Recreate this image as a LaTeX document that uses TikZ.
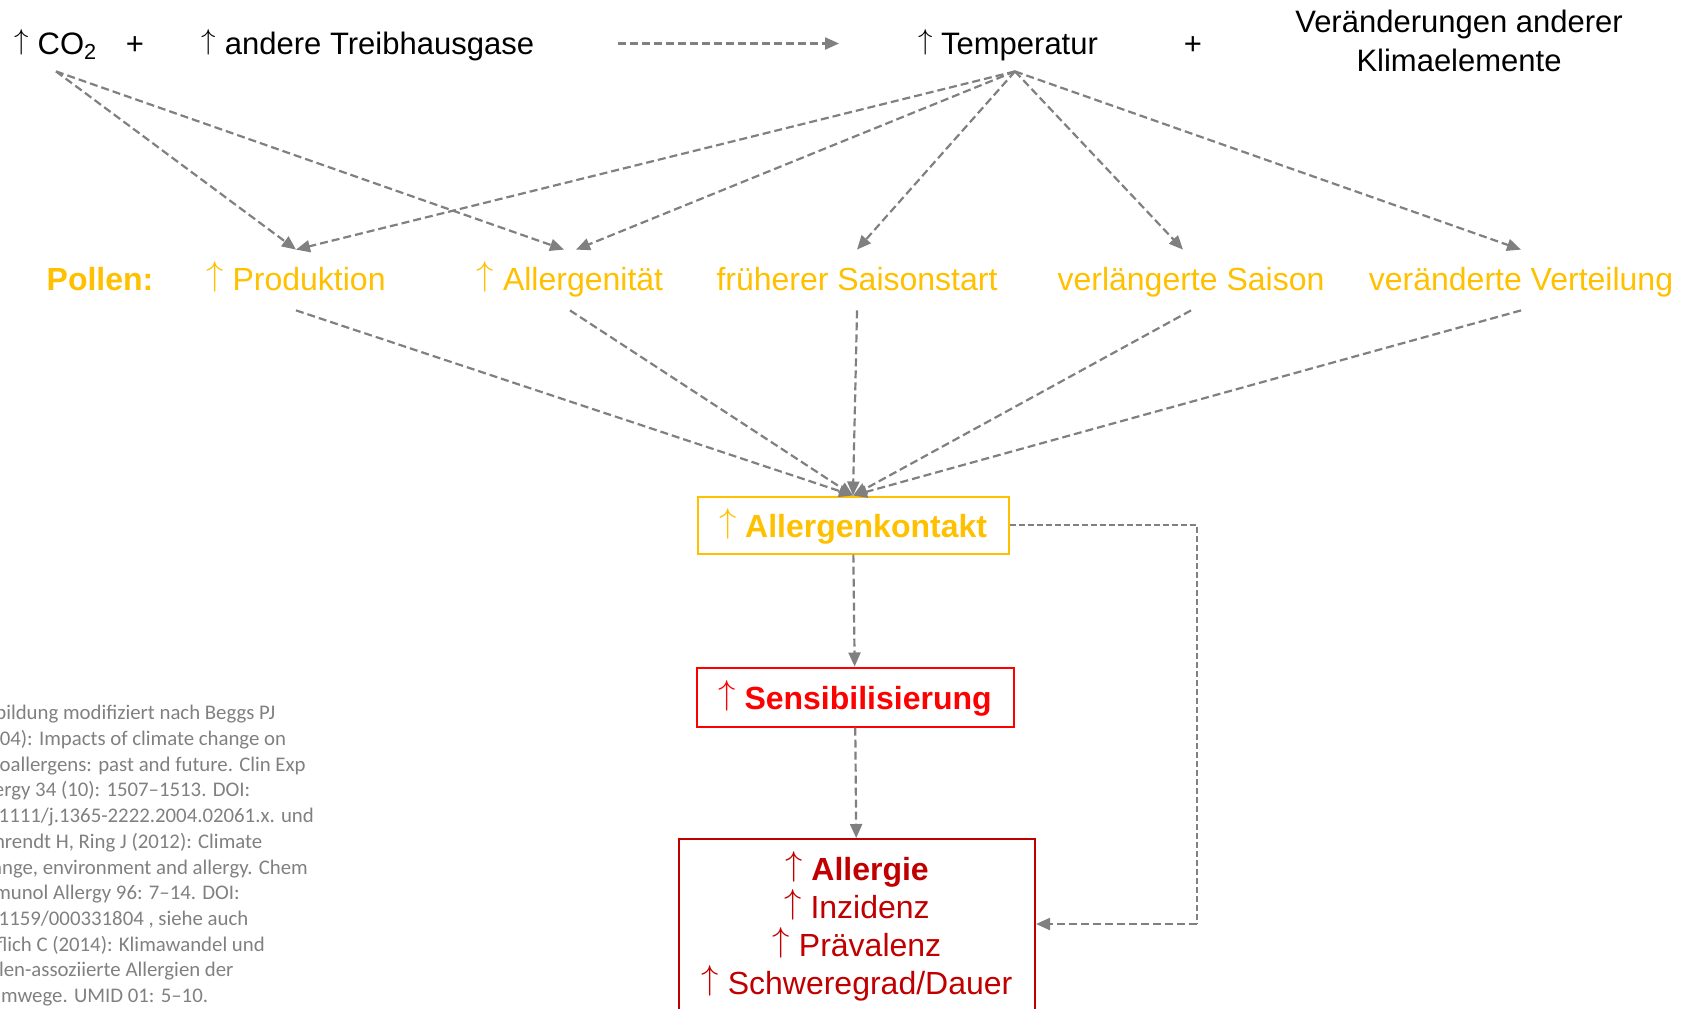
\documentclass[tikz,border=0pt]{standalone}
\usepackage{fontspec}
\setmainfont{Liberation Sans}
\newfontfamily\zitatfont{Carlito}
\usetikzlibrary{arrows.meta}
\definecolor{pollengelb}{HTML}{FFC000}
\definecolor{sensrot}{HTML}{FF0000}
\definecolor{allergierot}{HTML}{C00000}
\definecolor{pfeilgrau}{HTML}{808080}
\definecolor{zitatgrau}{HTML}{808080}
\newcommand{\hoch}{\raisebox{.15em}{$\uparrow$}}
\begin{document}
\begin{tikzpicture}[x=0.5pt,y=-0.5pt,>={Triangle[length=7pt,width=6pt]},
    oben/.style={anchor=base,font=\fontsize{15.5}{19.5}\selectfont,inner ysep=3pt,text height=16pt,text depth=5.5pt},
    pollen/.style={anchor=base,text=pollengelb,font=\fontsize{16}{19}\selectfont,inner ysep=4pt,text height=16pt,text depth=6pt},
    kasten/.style={draw,line width=1pt,font=\bfseries\fontsize{16}{19}\selectfont},
    einzeilig/.style={text height=12pt,text depth=0pt},
    pfeil/.style={->,pfeilgrau,line width=1.1pt,dash pattern=on 4pt off 2pt}]
  \useasboundingbox (0,0) rectangle (1690,1008);
  \clip (0,0) rectangle (1690,1008);
  \path (56,54) node[oben](co2){\hoch{} CO\textsubscript{2}}
        (135,54) node[oben](plus1){+}
        (368,54) node[oben](andere){\hoch{} andere Treibhausgase}
        (1008,54) node[oben](temp){\hoch{} Temperatur}
        (1193,54) node[oben](plus2){+}
        (1459,41) node[align=center,inner sep=0pt,font=\fontsize{15.5}{19.5}\selectfont](klima){Veränderungen anderer\\Klimaelemente};
  \path (100,290) node[pollen,font=\bfseries\fontsize{16}{19}\selectfont](pollen){Pollen:}
        (296,290) node[pollen](prod){\hoch{} Produktion}
        (570,290) node[pollen](allerg){\hoch{} Allergenität}
        (857,290) node[pollen](frueh){früherer Saisonstart}
        (1191,290) node[pollen](verl){verlängerte Saison}
        (1521,290) node[pollen](vert){veränderte Verteilung};
  \path (853,525) node[kasten,einzeilig,draw=pollengelb,text=pollengelb,minimum width=155.5pt,minimum height=28.5pt](kontakt){\hoch{} Allergenkontakt}
        (855,697) node[kasten,einzeilig,draw=sensrot,text=sensrot,minimum width=158.5pt,minimum height=29.5pt](sens){\hoch{} Sensibilisierung}
        (857,838) node[kasten,draw=allergierot,text=allergierot,anchor=north,align=center,minimum width=178pt,minimum height=87.5pt,font=\fontsize{16}{19}\selectfont](allergie){{\bfseries \hoch{} Allergie}\\\hoch{} Inzidenz\\\hoch{} Prävalenz\\\hoch{} Schweregrad/Dauer};
  \path (-28,705) node[anchor=north west,inner sep=0pt,align=left,text=zitatgrau,font=\zitatfont\fontsize{10.4}{12.85}\selectfont](zitat){Abbildung modifiziert nach Beggs PJ\\(2004): Impacts of climate change on\\aeroallergens: past and future. Clin Exp\\Allergy 34 (10): 1507–1513. DOI:\\10.1111/j.1365-2222.2004.02061.x. und\\Behrendt H, Ring J (2012): Climate\\change, environment and allergy. Chem\\Immunol Allergy 96: 7–14. DOI:\\10.1159/000331804 , siehe auch\\Höflich C (2014): Klimawandel und\\pollen-assoziierte Allergien der\\Atemwege. UMID 01: 5–10.};
  % Ursachen
  \draw[pfeil,shorten <=38.5pt,shorten >=36pt] (andere.east) -- (temp.west);
  \draw[pfeil] (co2.south) -- (prod.north);
  \draw[pfeil] (co2.south) -- ([xshift=-3pt]allerg.north);
  \draw[pfeil] ([xshift=3.5pt]temp.south) -- (prod.north);
  \draw[pfeil] ([xshift=3.5pt]temp.south) -- ([xshift=3pt]allerg.north);
  \draw[pfeil] ([xshift=3.5pt]temp.south) -- (frueh.north);
  \draw[pfeil] ([xshift=3.5pt]temp.south) -- ([xshift=-4pt]verl.north);
  \draw[pfeil] ([xshift=3.5pt]temp.south) -- (vert.north);
  % Pollen -> Allergenkontakt
  \draw[pfeil] (prod.south) -- (kontakt.north);
  \draw[pfeil] (allerg.south) -- (kontakt.north);
  \draw[pfeil] (frueh.south) -- (kontakt.north);
  \draw[pfeil] (verl.south) -- (kontakt.north);
  \draw[pfeil] (vert.south) -- (kontakt.north);
  % Folgen
  \draw[pfeil] (kontakt) -- (sens);
  \draw[pfeil] (sens) -- (allergie);
  \coordinate (knick) at (1197,924);
  \draw[pfeilgrau,line width=0.75pt,dash pattern=on 3pt off 1.5pt] (kontakt.east) -| (knick);
  \draw[pfeil] (knick) -- (allergie.east |- knick);
\end{tikzpicture}
\end{document}
